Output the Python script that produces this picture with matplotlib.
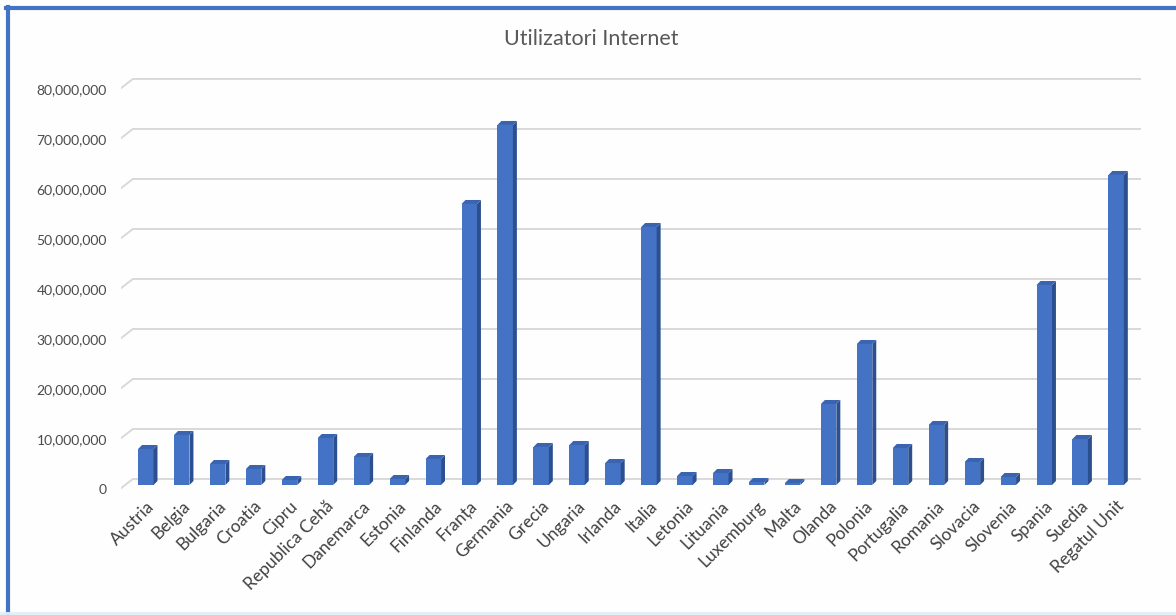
import numpy as np
import matplotlib
matplotlib.use("Agg")
import matplotlib.pyplot as plt
from matplotlib.lines import Line2D
from matplotlib.ticker import FuncFormatter

plt.rcParams['font.family'] = ['Lato', 'DejaVu Sans']

# --- Date ---
tari = ['Austria', 'Belgia', 'Bulgaria', 'Croatia', 'Cipru', 'Republica Cehă',
        'Danemarca', 'Estonia', 'Finlanda', 'Franța', 'Germania', 'Grecia',
        'Ungaria', 'Irlanda', 'Italia', 'Letonia', 'Lituania', 'Luxemburg',
        'Malta', 'Olanda', 'Polonia', 'Portugalia', 'Romania', 'Slovacia',
        'Slovenia', 'Spania', 'Suedia', 'Regatul Unit']
utilizatori = [7.2e6, 10.0e6, 4.2e6, 3.2e6, 1.0e6, 9.4e6,
               5.6e6, 1.2e6, 5.2e6, 56.2e6, 72.0e6, 7.6e6,
               8.0e6, 4.4e6, 51.6e6, 1.8e6, 2.4e6, 0.6e6,
               0.4e6, 16.2e6, 28.2e6, 7.4e6, 12.0e6, 4.6e6,
               1.6e6, 40.0e6, 9.2e6, 62.0e6]
y_ticks = np.arange(0, 80e6 + 1, 10e6)

# --- stil ---
FRONT = '#4472C4'
SIDE = '#2C4F8F'
TOP = '#3A63B0'
GRID = '#D9D9D9'
TEXT = '#595959'

W = 0.43        # latimea fetei din fata
DX = 0.11       # adancime pe x (unitati categorie)
DY = 0.8e6      # adancime pe y
FRONT_OFF = -0.8e6   # eticheta axei e in fata
BACK_OFF = 1.2e6     # liniile de grila pe peretele din spate

fig = plt.figure(figsize=(11.76, 6.15), dpi=100)
fig.patch.set_facecolor('#FEFEFE')
ax = fig.add_axes([0.1026, 0.1992, 0.8679, 0.6789])
ax.set_facecolor('none')

x = np.arange(len(tari))
ax.set_xlim(-0.7, len(tari) - 1 + 0.7)
ax.set_ylim(-1.5e6, 82e6)

# grila (cu segment diagonal in stanga)
for v in y_ticks:
    ax.plot([-0.72, -0.36, len(tari) - 1 + 0.7], [v + FRONT_OFF, v + BACK_OFF, v + BACK_OFF],
            color=GRID, linewidth=1.4, zorder=1, solid_capstyle='butt')

# coloane 3D
ax.bar(x, utilizatori, width=W, color=FRONT, zorder=3, linewidth=0)
for xi, h in zip(x, utilizatori):
    r = xi + W / 2
    l = xi - W / 2
    ax.fill([r, r + DX, r + DX, r], [0, DY, h + DY, h], color=SIDE, zorder=3, linewidth=0)
    ax.fill([l, r, r + DX, l + DX], [h, h, h + DY, h + DY], color=TOP, zorder=3, linewidth=0)

ax.set_yticks(y_ticks + FRONT_OFF)
ax.yaxis.set_major_formatter(FuncFormatter(lambda v, p: f'{v - FRONT_OFF:,.0f}'))
ax.set_xticks(x)
ax.set_xticklabels(tari, rotation=45, ha='right', va='top', rotation_mode='anchor')
ax.tick_params(axis='y', length=0, pad=10, labelsize=10, labelcolor='#4a4a4a')
ax.tick_params(axis='x', length=0, pad=4, labelsize=12.5, labelcolor='#404040')
for s in ax.spines.values():
    s.set_visible(False)

fig.text(0.503, 0.937, 'Utilizatori Internet', ha='center', va='center',
         fontsize=15.5, color=TEXT)

# chenarul albastru (sus si stanga)
fig.add_artist(Line2D([0.0051, 1.0], [0.9870, 0.9870], color='#4472C4', linewidth=3,
                      transform=fig.transFigure))
fig.add_artist(Line2D([0.0064, 0.0064], [0.0, 0.9894], color='#4472C4', linewidth=3,
                      transform=fig.transFigure))
fig.add_artist(Line2D([0.0, 1.0], [0.003, 0.003], color='#DDEFF8', linewidth=2,
                      transform=fig.transFigure))

fig.savefig('out.png', dpi=100, facecolor=fig.get_facecolor())
